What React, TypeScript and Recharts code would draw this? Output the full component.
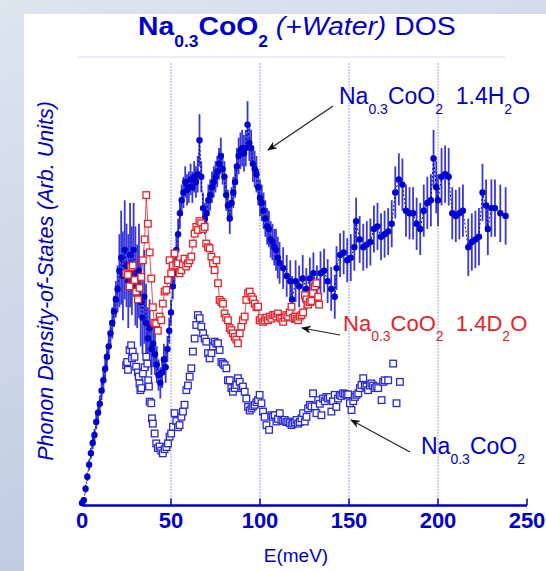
import React from "react";
import {
  ScatterChart,
  Scatter,
  XAxis,
  YAxis,
  ErrorBar,
  ReferenceLine,
} from "recharts";

// Na0.3CoO2 1.4H2O (filled circles with error bars)
const h2oE = [
  0, 1, 2, 3, 4, 5, 6, 7, 8, 9,
  10, 11, 12, 13, 14, 15, 16, 17, 18, 19,
  20, 21, 22, 23, 24, 25, 26, 27, 28, 29,
  30, 31, 32, 33, 34, 35, 36, 37, 38, 39,
  40, 41, 42, 43, 44, 45, 46, 47, 48, 49,
  50, 51, 52, 53, 54, 55, 56, 57, 58, 59,
  60, 61, 62, 63, 64, 65, 66, 67, 68, 69,
  70, 71, 72, 73, 74, 75, 76, 77, 78, 79,
  80, 81, 82, 83, 84, 85, 86, 87, 88, 89,
  90, 91, 92, 93, 94, 95, 96, 97, 98, 99,
  100, 101, 102, 103, 104, 105, 106, 107, 108, 109,
  110, 111, 113, 115, 117, 118, 120, 122, 124, 126,
  128, 130, 132, 134, 136, 138, 140, 142, 143, 145,
  147, 149, 151, 153, 154, 156, 158, 160, 162, 164,
  166, 168, 170, 172, 174, 176, 178, 180, 182, 184,
  186, 188, 190, 192, 194, 196, 197.5, 199, 200, 202,
  204, 206, 208, 210, 212, 214, 217, 219, 221, 223,
  225, 227, 228, 230, 232, 235, 238,
];
const h2oDos = [
  0.05, 0.1, 0.32, 0.55, 0.78, 1.0, 1.2, 1.35, 1.6, 1.78,
  1.95, 2.2, 2.4, 2.62, 2.85, 3.05, 3.3, 3.5, 3.72, 3.95,
  4.15, 4.5, 4.75, 4.4, 4.9, 4.6, 4.3, 4.8, 4.5, 4.9,
  4.4, 4.2, 4.5, 3.9, 3.6, 4.0, 3.5, 3.2, 3.4, 3.0,
  3.1, 2.9, 2.7, 2.5, 2.35, 2.55, 2.8, 2.65, 3.0, 3.35,
  3.7, 4.2, 4.45, 4.9, 5.2, 5.6, 5.85, 6.0, 6.2, 6.05,
  6.1, 6.25, 6.1, 6.3, 6.2, 6.35, 7.0, 6.3, 5.7, 5.5,
  5.6, 5.85, 5.95, 6.1, 6.2, 6.3, 6.4, 6.55, 6.7, 6.45,
  6.3, 5.95, 5.75, 5.5, 5.8, 6.0, 6.2, 6.5, 6.7, 6.8,
  6.85, 6.75, 6.85, 7.3, 6.95, 6.85, 6.55, 6.45, 6.35, 6.1,
  5.9, 5.8, 5.65, 5.5, 5.35, 5.3, 5.1, 5.05, 4.95, 4.9,
  4.75, 4.65, 4.55, 4.4, 4.3, 3.95, 4.3, 4.2, 4.35, 4.15,
  4.35, 4.45, 4.2, 4.45, 4.5, 4.3, 4.15, 4.0, 4.55, 4.8,
  4.85, 4.7, 4.75, 4.95, 5.45, 5.1, 4.95, 5.0, 5.05, 5.3,
  5.35, 5.15, 5.2, 5.25, 5.4, 6.0, 6.25, 6.15, 5.65, 5.6,
  5.6, 5.4, 5.3, 5.65, 5.8, 5.85, 6.65, 6.1, 5.85, 6.3,
  6.35, 6.3, 5.6, 5.55, 5.6, 5.65, 4.95, 5.05, 5.1, 5.15,
  6.0, 5.75, 5.3, 5.7, 5.7, 5.6, 5.55,
];
const h2oErr = [
  0.05, 0.06, 0.08, 0.08, 0.1, 0.1, 0.12, 0.12, 0.14, 0.15,
  0.16, 0.18, 0.2, 0.2, 0.22, 0.25, 0.25, 0.3, 0.3, 0.35,
  0.45, 0.7, 0.9, 0.85, 0.95, 0.8, 0.9, 1.0, 0.85, 0.9,
  0.95, 0.8, 0.9, 0.85, 0.7, 0.9, 0.75, 0.6, 0.55, 0.5,
  0.45, 0.4, 0.35, 0.3, 0.3, 0.3, 0.3, 0.3, 0.25, 0.25,
  0.25, 0.25, 0.3, 0.3, 0.3, 0.3, 0.3, 0.3, 0.3, 0.3,
  0.3, 0.3, 0.3, 0.3, 0.3, 0.35, 0.5, 0.3, 0.3, 0.3,
  0.3, 0.3, 0.3, 0.3, 0.3, 0.3, 0.3, 0.3, 0.35, 0.3,
  0.3, 0.3, 0.3, 0.3, 0.3, 0.3, 0.3, 0.35, 0.35, 0.35,
  0.35, 0.35, 0.35, 0.45, 0.35, 0.35, 0.35, 0.35, 0.35, 0.35,
  0.35, 0.35, 0.35, 0.35, 0.35, 0.35, 0.35, 0.35, 0.35, 0.4,
  0.4, 0.4, 0.4, 0.4, 0.4, 0.45, 0.4, 0.4, 0.45, 0.4,
  0.4, 0.4, 0.4, 0.42, 0.42, 0.42, 0.42, 0.42, 0.42, 0.42,
  0.42, 0.42, 0.45, 0.45, 0.45, 0.45, 0.45, 0.45, 0.45, 0.45,
  0.45, 0.45, 0.45, 0.45, 0.45, 0.5, 0.5, 0.5, 0.5, 0.5,
  0.5, 0.5, 0.5, 0.5, 0.5, 0.5, 0.55, 0.5, 0.5, 0.55,
  0.55, 0.55, 0.5, 0.5, 0.5, 0.5, 0.55, 0.55, 0.55, 0.55,
  0.55, 0.5, 0.5, 0.55, 0.55, 0.55, 0.55,
];

// Na0.3CoO2 1.4D2O (red open squares)
const d2oE = [
  24.8, 25.8, 26.7, 27.6, 28.5, 29.5, 30.4, 31.4, 32.3, 33.3,
  34.2, 35.2, 36.1, 37, 38, 38.9, 39.8, 40.7, 41.7, 42.6,
  43.6, 44.5, 45.4, 46.4, 47.4, 48.3, 49.2, 50.1, 51.1, 52,
  53, 53.9, 54.8, 55.8, 56.7, 57.6, 58.5, 59.5, 60.4, 61.4,
  62.3, 63.3, 64.2, 65.1, 66, 67, 68, 68.9, 69.8, 70.8,
  71.7, 72.7, 73.6, 74.5, 75.5, 76.4, 77.3, 78.3, 79.2, 80.1,
  81, 82, 83, 83.9, 84.8, 85.8, 86.7, 87.6, 88.6, 89.5,
  90.4, 91.4, 92.3, 93.3, 94.2, 95.2, 96.1, 97, 98, 98.9,
  99.8, 100.8, 101.7, 102.6, 103.6, 104.5, 105.5, 106.4, 107.4, 108.3,
  109.2, 110.1, 111.1, 112, 113, 113.9, 114.8, 115.8, 116.7, 117.7,
  118.6, 119.6, 120.5, 121.4, 122.3, 123.3, 124.2, 125.2, 126.1, 127,
  128, 128.9, 129.8, 130.8, 131.7, 132.7, 133.2,
];
const d2oDos = [
  4.45, 4.42, 4.2, 4.57, 4.6, 4.32, 4.1, 3.95, 4.17, 4.38,
  4.7, 5.1, 5.95, 5.4, 4.85, 4.35, 3.8, 3.5, 3.49, 3.35,
  3.62, 3.55, 3.87, 4.1, 4.13, 4.32, 4.7, 4.45, 4.6, 4.83,
  4.6, 4.64, 4.45, 4.51, 4.62, 4.73, 4.58, 4.64, 4.7, 4.77,
  5.02, 5.21, 5.34, 5.28, 5.45, 5.41, 5.3, 5.34, 5.02, 4.95,
  4.93, 4.77, 4.64, 4.51, 4.7, 4.26, 3.94, 3.9, 3.87, 3.68,
  3.6, 3.55, 3.4, 3.36, 3.3, 3.23, 3.18, 3.11, 3.3, 3.43,
  3.55, 3.62, 3.94, 4.07, 4.1, 4.0, 3.95, 3.87, 3.8, 3.81,
  3.55, 3.59, 3.52, 3.55, 3.6, 3.55, 3.62, 3.58, 3.65, 3.65,
  3.62, 3.68, 3.6, 3.58, 3.52, 3.6, 3.65, 3.62, 3.7, 3.81,
  3.6, 3.62, 3.58, 3.55, 3.62, 3.65, 3.7, 4.03, 3.95, 3.85,
  3.9, 3.92, 4.07, 4.2, 4.26, 4.0, 3.85,
];

// Na0.3CoO2 dry (blue open squares)
const dryE = [
  24.8, 25.4, 25.8, 26.7, 27.6, 28.1, 28.5, 29.5, 30.4, 31.4,
  31.9, 32.3, 32.8, 33.3, 34.2, 35.2, 36.1, 36.7, 37.2, 37.6,
  38, 38.9, 39.3, 39.8, 40.8, 41.7, 42.6, 43.6, 44.5, 45.4,
  46.4, 47.4, 48.3, 49.2, 50.1, 51.1, 52, 53, 53.9, 54.8,
  55.8, 56.7, 57.6, 58.6, 59.5, 60.5, 61.4, 62.3, 63.3, 64.2,
  65.1, 66.1, 67, 68, 68.9, 69.8, 70.8, 71.7, 72.7, 73.6,
  74.5, 75.5, 76.4, 77.3, 78.3, 79.2, 80.1, 81.1, 82, 83,
  83.9, 84.8, 85.8, 86.7, 87.6, 88.6, 89.5, 90.4, 91.4, 92.3,
  93.3, 94.2, 95.2, 96.1, 97, 98, 98.9, 99.8, 100.8, 101.7,
  102.6, 103.6, 105.1, 106.4, 107.3, 108.3, 109.2, 110.1, 111.1, 112,
  113, 113.9, 114.8, 115.8, 116.7, 117.7, 118.6, 119.6, 120.5, 121.4,
  122.3, 123.3, 124.2, 125.2, 126.1, 127, 128, 128.9, 129.8, 130.8,
  131.7, 132.7, 133.6, 134.5, 135.4, 136.4, 137.3, 138.2, 139.2, 140.1,
  141, 142, 142.9, 143.8, 144.8, 145.7, 146.7, 147.6, 148.6, 149.5,
  150.5, 151.4, 152.4, 153.3, 154.2, 155.2, 156.1, 157, 158, 158.9,
  159.8, 160.7, 161.7, 162.6, 163.5, 164.5, 165.4, 166.4, 168.3, 169.2,
  170.1, 172, 174.8, 176.7, 178.6,
];
const dryDos = [
  2.69, 2.75, 2.6, 2.98, 3.07, 2.82, 2.95, 2.85, 2.66, 2.55,
  2.47, 2.34, 2.21, 2.25, 2.53, 2.65, 2.85, 2.72, 2.4, 2.28,
  1.99, 1.96, 1.67, 1.57, 1.38, 1.19, 1.1, 1.13, 1.05, 1.0,
  1.08, 1.12, 1.19, 1.32, 1.38, 1.51, 1.77, 1.62, 1.5, 1.54,
  1.7, 1.8, 1.93, 2.21, 2.3, 2.47, 2.63, 2.95, 3.2, 3.46,
  3.65, 3.59, 3.43, 3.3, 3.2, 3.14, 2.92, 2.82, 2.92, 3.05,
  3.14, 3.1, 3.11, 2.98, 2.75, 2.72, 2.69, 2.63, 2.4, 2.4,
  2.25, 2.18, 2.25, 2.31, 2.44, 2.37, 2.25, 2.28, 2.18, 2.05,
  1.89, 1.82, 1.86, 1.9, 1.93, 1.98, 2.02, 2.12, 1.96, 1.8,
  1.7, 1.54, 1.45, 1.73, 1.7, 1.73, 1.61, 1.66, 1.77, 1.64,
  1.62, 1.64, 1.6, 1.61, 1.58, 1.54, 1.57, 1.6, 1.64, 1.57,
  1.6, 1.67, 1.77, 1.61, 1.7, 1.86, 1.93, 1.9, 2.15, 1.9,
  1.77, 2.02, 1.95, 1.73, 2.05, 2.0, 2.08, 2.05, 2.08, 1.8,
  2.0, 2.12, 1.89, 2.05, 2.12, 2.1, 2.15, 2.14, 2.12, 2.13,
  1.96, 1.83, 2.0, 2.08, 2.12, 2.15, 2.25, 2.31, 2.44, 2.3,
  2.28, 2.21, 2.3, 2.34, 2.3, 2.25, 2.28, 2.25, 2.02, 2.37,
  2.4, 2.4, 2.72, 1.96, 2.37,
];

const xTicks = [0, 50, 100, 150, 200, 250];
const yTicks = [0, 1, 2, 3, 4, 5, 6, 7, 8];
const gridLines = [50, 100, 150, 200];

const BLUE = "#0000cc";
const RED = "#e8222a";
const FONT = "'Liberation Sans', Arial, sans-serif";

const h2oData = h2oE.map((e, i) => ({ e, v: h2oDos[i], err: h2oErr[i] }));
const d2oData = d2oE.map((e, i) => ({ e, v: d2oDos[i] }));
const dryData = dryE.map((e, i) => ({ e, v: dryDos[i] }));

const Dot = (p: any) => <circle cx={p.cx} cy={p.cy} r={3.2} fill={BLUE} />;
const RedBox = (p: any) => (
  <rect x={p.cx - 3.3} y={p.cy - 3.3} width={6.6} height={6.6} fill="#fff" stroke={RED} strokeWidth={1.3} />
);
const BlueBox = (p: any) => (
  <rect x={p.cx - 3.3} y={p.cy - 3.3} width={6.6} height={6.6} fill="#fff" stroke="#2a2ad4" strokeWidth={1.3} />
);

// chemical formula label: parts flagged as subscript drop below the baseline
function Formula({ x, y, size, color, parts, sx = 1 }: any) {
  const sub = Math.round(size * 0.62);
  let shifted = false;
  return (
    <g transform={`translate(${x} ${y}) scale(${sx} 1)`}>
      <text x={0} y={0} fill={color} fontFamily={FONT} fontSize={size}>
        {parts.map((p: any, i: number) => {
          let dy = 0;
          if (p.sub && !shifted) { dy = size * 0.45; shifted = true; }
          else if (!p.sub && shifted) { dy = -size * 0.45; shifted = false; }
          return (
            <tspan key={i} dy={dy} fontSize={p.sub ? sub : size} fontWeight={p.bold ? "bold" : undefined} fontStyle={p.italic ? "italic" : undefined}>
              {p.t}
            </tspan>
          );
        })}
      </text>
    </g>
  );
}

export default function App() {
  return (
    <div style={{ position: "absolute", left: 0, top: 0, width: 546, height: 571, background: "linear-gradient(160deg, #dde5ef 0%, #c6d1e4 60%, #b6c3de 100%)", overflow: "hidden" }}>
      <div style={{ position: "absolute", left: 24, top: 14, width: 522, height: 557, background: "#fff" }} />
      <div style={{ position: "absolute", left: 0, top: 0 }}>
        <ScatterChart width={546} height={571} margin={{ top: 62, right: 19, bottom: 0, left: 82 }}>
          <XAxis
            type="number"
            dataKey="e"
            domain={[0, 250]}
            ticks={xTicks}
            height={65.5}
            stroke={BLUE}
            axisLine={{ stroke: BLUE, strokeWidth: 2.5 }}
            tickLine={{ stroke: BLUE, strokeWidth: 1.5 }}
            tickSize={-7}
            tickMargin={14}
            tick={{ fill: BLUE, fontSize: 22, fontWeight: "bold", fontFamily: FONT }}
          />
          <XAxis xAxisId="top" type="number" orientation="top" domain={[0, 250]} height={0} tick={false} tickLine={false} axisLine={{ stroke: BLUE, strokeWidth: 2.5 }} />
          <YAxis
            type="number"
            dataKey="v"
            domain={[0, 8.5]}
            ticks={yTicks}
            width={0}
            tick={false}
            tickSize={-6}
            axisLine={{ stroke: BLUE, strokeWidth: 2.5 }}
            tickLine={{ stroke: BLUE, strokeWidth: 1.5 }}
          />
          <YAxis
            yAxisId="r"
            orientation="right"
            type="number"
            domain={[0, 8.5]}
            ticks={yTicks}
            width={0}
            tick={false}
            tickSize={-6}
            axisLine={{ stroke: BLUE, strokeWidth: 2.5 }}
            tickLine={{ stroke: BLUE, strokeWidth: 1.5 }}
          />
          {gridLines.map((g) => (
            <ReferenceLine key={g} x={g} stroke="#4646d6" strokeWidth={1} strokeDasharray="1 2" />
          ))}
          <Scatter
            data={h2oData}
            isAnimationActive={false}
            shape={Dot}
            line={{ stroke: BLUE, strokeWidth: 1, strokeDasharray: "2 2" }}
            lineType="joint"
          >
            <ErrorBar dataKey="err" direction="y" width={0} stroke="#3838d8" strokeWidth={1.8} />
          </Scatter>
          <Scatter
            data={d2oData}
            isAnimationActive={false}
            shape={RedBox}
            line={{ stroke: RED, strokeWidth: 0.8 }}
            lineType="joint"
          />
          <Scatter data={dryData} isAnimationActive={false} shape={BlueBox} />
        </ScatterChart>
      </div>
      <svg width={546} height={571} style={{ position: "absolute", left: 0, top: 0, pointerEvents: "none" }}>
        <defs>
          <marker id="head" markerWidth="10" markerHeight="8" refX="9" refY="4" orient="auto" markerUnits="userSpaceOnUse">
            <path d="M0,0 L10,4 L0,8 L3,4 Z" fill="#111" />
          </marker>
        </defs>
        <line x1={78} y1={57} x2={505} y2={57} stroke="#dadaf0" strokeWidth={1} />
        <Formula
          x={138}
          y={35}
          size={26}
          sx={1.09}
          color={BLUE}
          parts={[
            { t: "Na", bold: true },
            { t: "0.3", sub: true, bold: true },
            { t: "CoO", bold: true },
            { t: "2", sub: true, bold: true },
            { t: " (+Water)", italic: true },
            { t: " DOS" },
          ]}
        />
        <Formula
          x={339}
          y={104}
          size={23}
          color={BLUE}
          parts={[{ t: "Na" }, { t: "0.3", sub: true }, { t: "CoO" }, { t: "2", sub: true }, { t: "\u00a0\u00a01.4H" }, { t: "2", sub: true }, { t: "O" }]}
        />
        <Formula
          x={343}
          y={331}
          size={22}
          color={RED}
          parts={[{ t: "Na" }, { t: "0.3", sub: true }, { t: "CoO" }, { t: "2", sub: true }, { t: "\u00a0\u00a01.4D" }, { t: "2", sub: true }, { t: "O" }]}
        />
        <Formula
          x={421}
          y={454}
          size={23}
          color={BLUE}
          parts={[{ t: "Na" }, { t: "0.3", sub: true }, { t: "CoO" }, { t: "2", sub: true }]}
        />
        <line x1={333} y1={106} x2={268} y2={150} stroke="#222" strokeWidth={1.2} markerEnd="url(#head)" />
        <line x1={340} y1={335} x2={302} y2={328} stroke="#222" strokeWidth={1.2} markerEnd="url(#head)" />
        <line x1={410} y1={452} x2={351} y2={420} stroke="#222" strokeWidth={1.2} markerEnd="url(#head)" />
        <text x={296} y={562} textAnchor="middle" fill={BLUE} fontFamily={FONT} fontSize={19}>
          E(meV)
        </text>
        <text
          x={0}
          y={0}
          transform="translate(53 281) rotate(-90)"
          textAnchor="middle"
          fill={BLUE}
          fontFamily={FONT}
          fontSize={21.5}
          fontStyle="italic"
        >
          Phonon Density-of-States (Arb. Units)
        </text>
      </svg>
    </div>
  );
}
